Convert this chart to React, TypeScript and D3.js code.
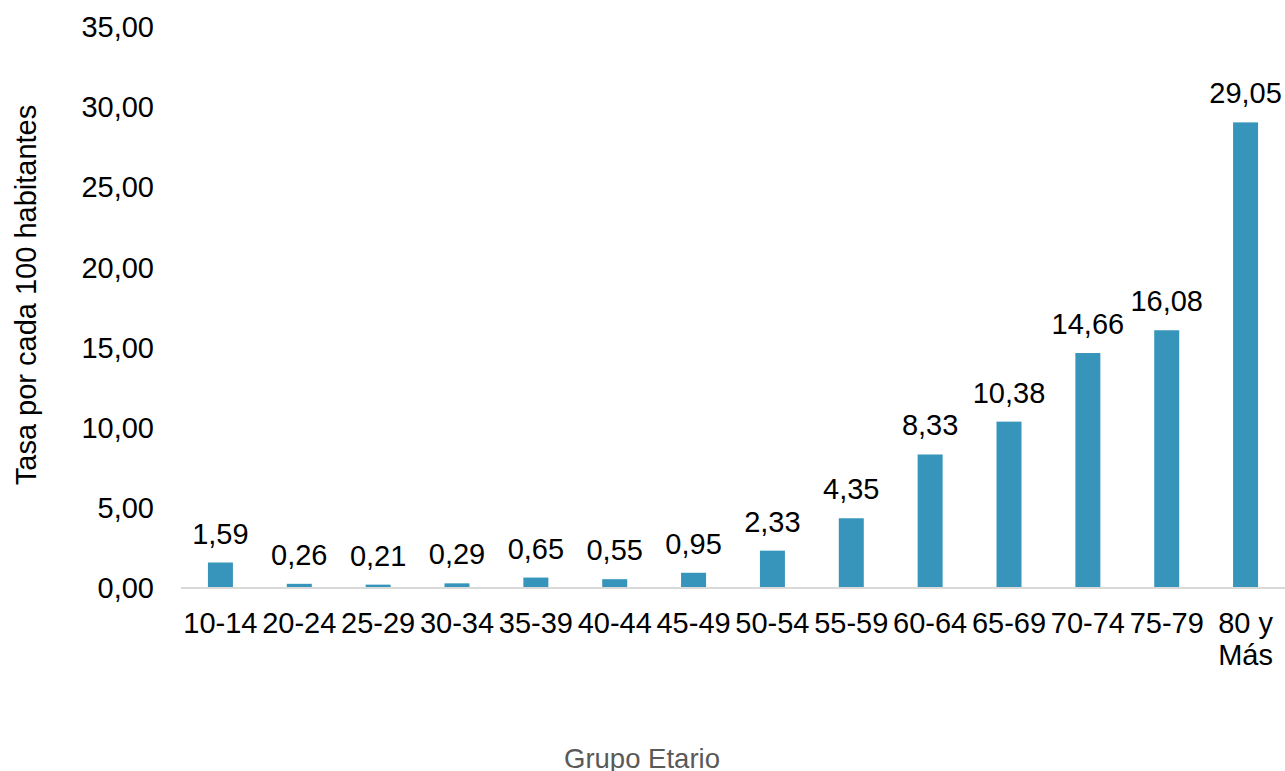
import React from "react";
import * as d3 from "d3";

const categories = ["10-14", "20-24", "25-29", "30-34", "35-39", "40-44", "45-49", "50-54", "55-59", "60-64", "65-69", "70-74", "75-79", "80 y\nMás"];
const rates = [1.59, 0.26, 0.21, 0.29, 0.65, 0.55, 0.95, 2.33, 4.35, 8.33, 10.38, 14.66, 16.08, 29.05];
const yTicks = [0, 5, 10, 15, 20, 25, 30, 35];

const W = 1285;
const H = 771;
const FONT = "'Liberation Sans', Arial, sans-serif";
const fmt = (v: number) => v.toFixed(2).replace(".", ",");

export default function App() {
  const x = d3.scaleBand<string>().domain(categories).range([181, 1285]).paddingInner(0.683).paddingOuter(0.3415);
  const y = d3.scaleLinear().domain([0, 35]).range([588, 27]);

  return (
    <svg width={W} height={H} style={{ position: "absolute", left: 0, top: 0, background: "#fff" }} fontFamily={FONT}>
      {yTicks.map((t) => (
        <text key={t} x={154} y={y(t)} dy="0.35em" textAnchor="end" fontSize={29} fill="#000">
          {fmt(t)}
        </text>
      ))}
      {categories.map((c, i) => (
        <rect key={c} x={x(c)} y={y(rates[i])} width={x.bandwidth()} height={y(0) - y(rates[i])} fill="#3795bb" />
      ))}
      <line x1={181} x2={1285} y1={y(0)} y2={y(0)} stroke="#d9d9d9" strokeWidth={2} />
      {categories.map((c, i) => (
        <text key={c} x={x(c)! + x.bandwidth() / 2} y={y(rates[i]) - 19} textAnchor="middle" fontSize={29} fill="#000">
          {fmt(rates[i])}
        </text>
      ))}
      {categories.map((c) => {
        const lines = c.split("\n");
        return (
          <text key={c} x={x(c)! + x.bandwidth() / 2} y={623} textAnchor="middle" fontSize={29} fill="#000">
            {lines.map((l, k) => (
              <tspan key={k} x={x(c)! + x.bandwidth() / 2} dy={k === 0 ? "0.35em" : 32}>
                {l}
              </tspan>
            ))}
          </text>
        );
      })}
      <text x={642} y={758} dy="0.35em" textAnchor="middle" fontSize={27.5} fill="#595959">
        Grupo Etario
      </text>
      <text transform="translate(26,295) rotate(-90)" dy="0.35em" textAnchor="middle" fontSize={29} fill="#000">
        Tasa por cada 100 habitantes
      </text>
    </svg>
  );
}
